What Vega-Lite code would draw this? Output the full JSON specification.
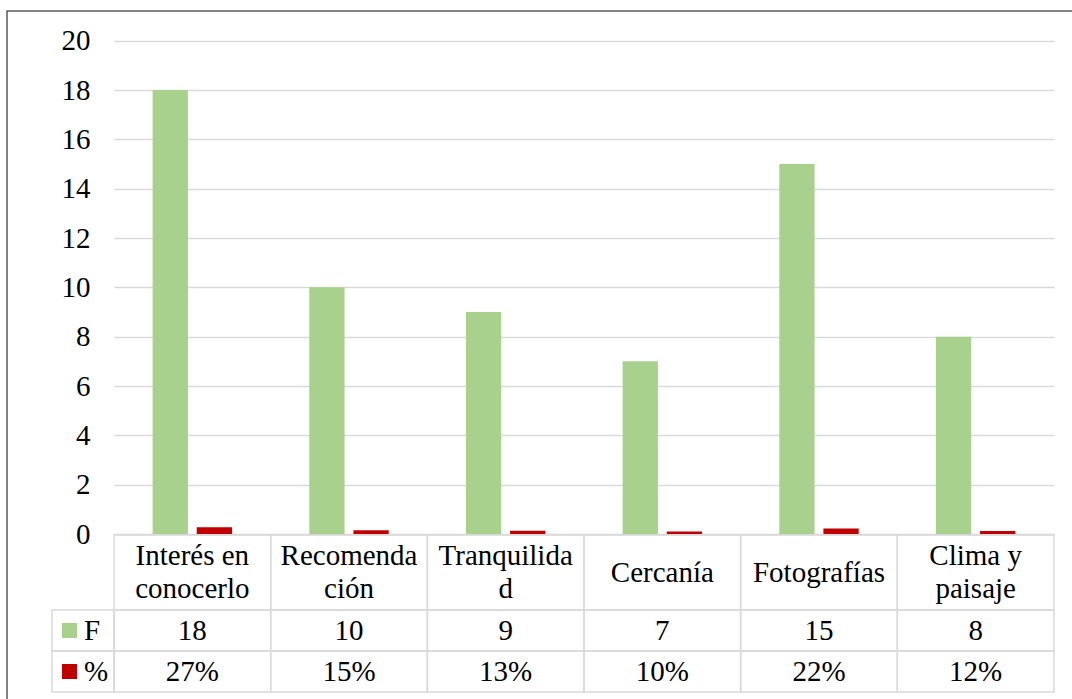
{
  "$schema": "https://vega.github.io/schema/vega-lite/v6.json",
  "width": 1072,
  "height": 699,
  "autosize": {"type": "fit", "contains": "padding"},
  "padding": {"left": 7, "top": 11, "right": -4, "bottom": -4},
  "background": "white",
  "config": {
    "view": {"stroke": "#595959", "strokeWidth": 1.5},
    "font": "Liberation Serif, Times New Roman, DejaVu Serif, serif",
    "text": {"font": "Liberation Serif, Times New Roman, DejaVu Serif, serif", "fontSize": 29, "color": "black"}
  },
  "data": {
    "values": [
      {"cat": "Interés en\nconocerlo", "serie": "F", "value": 18, "label": "18"},
      {"cat": "Interés en\nconocerlo", "serie": "%", "value": 0.27, "label": "27%"},
      {"cat": "Recomenda\nción", "serie": "F", "value": 10, "label": "10"},
      {"cat": "Recomenda\nción", "serie": "%", "value": 0.15, "label": "15%"},
      {"cat": "Tranquilida\nd", "serie": "F", "value": 9, "label": "9"},
      {"cat": "Tranquilida\nd", "serie": "%", "value": 0.13, "label": "13%"},
      {"cat": "Cercanía", "serie": "F", "value": 7, "label": "7"},
      {"cat": "Cercanía", "serie": "%", "value": 0.10, "label": "10%"},
      {"cat": "Fotografías", "serie": "F", "value": 15, "label": "15"},
      {"cat": "Fotografías", "serie": "%", "value": 0.22, "label": "22%"},
      {"cat": "Clima y\npaisaje", "serie": "F", "value": 8, "label": "8"},
      {"cat": "Clima y\npaisaje", "serie": "%", "value": 0.12, "label": "12%"}
    ]
  },
  "resolve": {"scale": {"x": "independent", "y": "independent", "color": "independent"}},
  "layer": [
    {
      "mark": {"type": "bar"},
      "encoding": {
        "x": {"field": "cat", "type": "nominal", "sort": null, "scale": {"range": [107, 1047], "paddingInner": 0, "paddingOuter": 0}, "axis": null},
        "xOffset": {"field": "serie", "type": "nominal", "sort": ["F", "%"], "scale": {"paddingInner": 0.2, "paddingOuter": 0.875}},
        "y": {
          "field": "value", "type": "quantitative",
          "scale": {"domain": [0, 20], "range": [523, 29.7], "nice": false, "zero": true},
          "axis": {
            "values": [0, 2, 4, 6, 8, 10, 12, 14, 16, 18, 20],
            "offset": -107, "domain": false, "grid": false, "ticks": true,
            "tickSize": -940, "tickColor": "#d9d9d9", "tickWidth": 1.5,
            "labelPadding": 964, "labelFont": "Liberation Serif, Times New Roman, DejaVu Serif, serif", "labelFontSize": 29,
            "labelColor": "black", "title": null, "zindex": 0, "minExtent": 0, "maxExtent": 0,
            "labelOverlap": false, "labelFlush": false
          }
        },
        "color": {"field": "serie", "type": "nominal", "scale": {"domain": ["F", "%"], "range": ["#A9D18E", "#C00000"]}, "legend": null}
      }
    },
    {
      "transform": [{"filter": "datum.serie === 'F'"}],
      "encoding": {
        "x": {"field": "cat", "type": "nominal", "sort": null, "scale": {"range": [107, 1047], "paddingInner": 0, "paddingOuter": 0}, "axis": null},
        "y": {"datum": "hdr", "type": "nominal", "scale": {"range": [524, 599], "paddingInner": 0, "paddingOuter": 0}, "axis": null}
      },
      "layer": [
        {"mark": {"type": "rect", "fill": "transparent", "stroke": "#d9d9d9", "strokeWidth": 1.5}},
        {"transform": [{"filter": "datum.cat !== 'Cercanía' && datum.cat !== 'Fotografías'"}],
         "mark": {"type": "text", "lineBreak": "\n", "lineHeight": 33, "baseline": "middle", "align": "center", "dy": -16.5, "font": "Liberation Serif, Times New Roman, DejaVu Serif, serif", "fontSize": 29, "color": "black"},
         "encoding": {"text": {"field": "cat"}}},
        {"transform": [{"filter": "datum.cat === 'Cercanía' || datum.cat === 'Fotografías'"}],
         "mark": {"type": "text", "baseline": "middle", "align": "center", "font": "Liberation Serif, Times New Roman, DejaVu Serif, serif", "fontSize": 29, "color": "black"},
         "encoding": {"text": {"field": "cat"}}}
      ]
    },
    {
      "encoding": {
        "x": {"field": "cat", "type": "nominal", "sort": null, "scale": {"range": [107, 1047], "paddingInner": 0, "paddingOuter": 0}, "axis": null},
        "y": {"field": "serie", "type": "nominal", "sort": ["F", "%"], "scale": {"range": [599, 681], "paddingInner": 0, "paddingOuter": 0}, "axis": null}
      },
      "layer": [
        {"mark": {"type": "rect", "fill": "transparent", "stroke": "#d9d9d9", "strokeWidth": 1.5}},
        {"mark": {"type": "text", "baseline": "middle", "align": "center", "font": "Liberation Serif, Times New Roman, DejaVu Serif, serif", "fontSize": 29, "color": "black"}, "encoding": {"text": {"field": "label"}}}
      ]
    },
    {
      "transform": [{"filter": "datum.cat === 'Cercanía'"}],
      "encoding": {
        "x": {"datum": "leg", "type": "nominal", "scale": {"range": [45, 107], "paddingInner": 0, "paddingOuter": 0}, "axis": null},
        "y": {"field": "serie", "type": "nominal", "sort": ["F", "%"], "scale": {"range": [599, 681], "paddingInner": 0, "paddingOuter": 0}, "axis": null}
      },
      "layer": [
        {"mark": {"type": "rect", "fill": "transparent", "stroke": "#d9d9d9", "strokeWidth": 1.5}},
        {"mark": {"type": "point", "shape": "square", "size": 225, "filled": true, "opacity": 1, "xOffset": -13.5},
         "encoding": {"color": {"field": "serie", "type": "nominal", "scale": {"domain": ["F", "%"], "range": ["#A9D18E", "#C00000"]}, "legend": null}}},
        {"mark": {"type": "text", "baseline": "middle", "align": "left", "dx": 1, "font": "Liberation Serif, Times New Roman, DejaVu Serif, serif", "fontSize": 29, "color": "black"}, "encoding": {"text": {"field": "serie"}}}
      ]
    }
  ]
}
